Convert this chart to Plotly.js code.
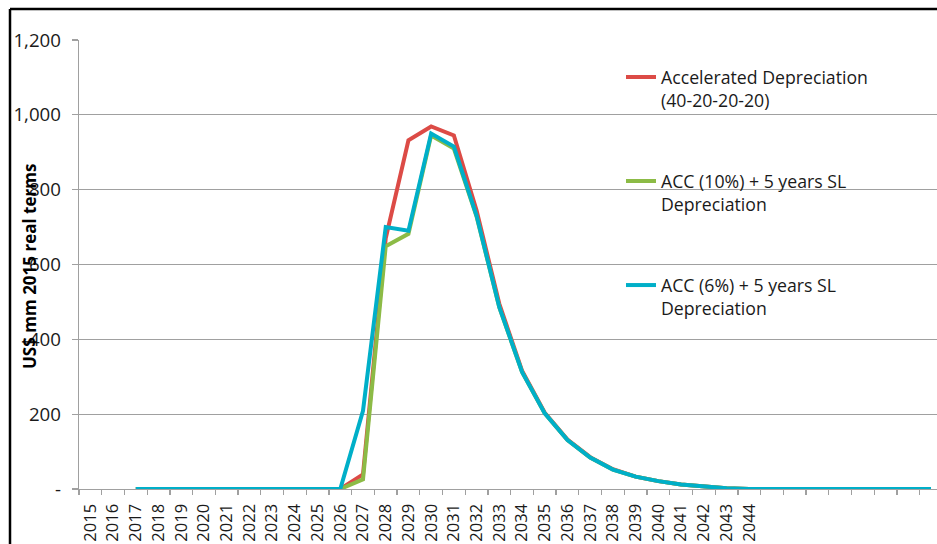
<!DOCTYPE html>
<html>
<head>
<meta charset="utf-8">
<script src="https://cdn.plot.ly/plotly-3.0.1.min.js"></script>
<style>
html,body{margin:0;padding:0;background:#fff;}
#chart{width:937px;height:544px;}
</style>
</head>
<body>
<div id="chart"></div>
<script>
// Categories (years) — the axis runs beyond the last labelled year
const years = [2015,2016,2017,2018,2019,2020,2021,2022,2023,2024,2025,2026,2027,2028,2029,2030,2031,2032,2033,2034,2035,2036,2037,2038,2039,2040,2041,2042,2043,2044,2045,2046,2047,2048,2049,2050,2051,2052];
// Labelled years on the x axis
const xTickYears = [2015,2016,2017,2018,2019,2020,2021,2022,2023,2024,2025,2026,2027,2028,2029,2030,2031,2032,2033,2034,2035,2036,2037,2038,2039,2040,2041,2042,2043,2044];
const xTickLabels = xTickYears.map(String);

// Series values (US$ mm 2015 real terms)
const accelerated = [null,null,0,0,0,0,0,0,0,0,0,0,39,670,932,969,945,744,495,316,204,132,85,53,33,21,12,6,2,0,0,0,0,0,0,0,0,0];
const acc10 = [null,null,0,0,0,0,0,0,0,0,0,0,26,649,682,945,910,728,485,313,202,131,84,52,33,21,12,6,2,0,0,0,0,0,0,0,0,0];
const acc6 = [null,null,0,0,0,0,0,0,0,0,0,0,209,700,690,950,915,730,486,313,202,131,84,52,33,21,12,6,2,0,0,0,0,0,0,0,0,0];

const seriesNames = [
  'Accelerated Depreciation<br>(40-20-20-20)',
  'ACC (10%) + 5 years SL<br>Depreciation',
  'ACC (6%) + 5 years SL<br>Depreciation'
];

const yTickVals = [0,200,400,600,800,1000,1200];
const yTickLabels = ['-','200','400','600','800','1,000','1,200'];

const FONT = '"Open Sans", sans-serif';
const colors = ['#dc4b46', '#8cbb46', '#00afc8'];
const seriesData = [accelerated, acc10, acc6];

const traces = seriesData.map((vals, i) => ({
  type: 'scatter',
  mode: 'lines',
  x: years,
  y: vals,
  name: seriesNames[i],
  legendgroup: 'g' + i,
  line: {color: colors[i], width: 4},
  hoverinfo: 'x+y'
}));

const W = 937, H = 544;
const L = 79, R = 0, T = 40, B = 55;
const pw = W - L - R, ph = H - T - B;
const px = X => (X - L) / pw;
const py = Y => (T + ph - Y) / ph;

const layout = {
  width: W, height: H,
  margin: {l: L, r: R, t: T, b: B, pad: 0},
  paper_bgcolor: '#ffffff',
  plot_bgcolor: '#ffffff',
  font: {family: FONT, size: 16, color: '#1a1a1a'},
  showlegend: true,
  legend: {
    x: px(621), y: py(59), xanchor: 'left', yanchor: 'top',
    bgcolor: 'rgba(0,0,0,0)',
    font: {family: FONT, size: 17.7, color: '#1a1a1a'},
    traceorder: 'grouped',
    tracegroupgap: 55,
    valign: 'top'
  },
  xaxis: {
    type: 'linear',
    range: [2014.5, 2014.5 + pw / 22.72],
    tickmode: 'array',
    tickvals: xTickYears,
    ticktext: xTickLabels,
    tickangle: -90,
    ticks: '',
    showgrid: false,
    zeroline: false,
    showline: true,
    linecolor: '#a0a0a0',
    linewidth: 1.3,
    tickfont: {family: FONT, size: 16.5, color: '#1a1a1a'},
    ticklabelstandoff: 7,
    minor: {tick0: 2014.5, dtick: 1, ticks: 'outside', ticklen: 5, tickcolor: '#a0a0a0', tickwidth: 1.3, showgrid: false},
    fixedrange: true
  },
  yaxis: {
    range: [0, 1200],
    tickmode: 'array',
    tickvals: yTickVals,
    ticktext: yTickLabels,
    ticks: 'outside',
    ticklen: 6,
    tickcolor: '#a0a0a0',
    tickwidth: 1.3,
    showgrid: true,
    gridcolor: '#a0a0a0',
    gridwidth: 1.3,
    zeroline: false,
    showline: true,
    linecolor: '#a0a0a0',
    linewidth: 1.3,
    tickfont: {family: FONT, size: 18.7, color: '#1a1a1a'},
    ticklabelstandoff: 7,
    fixedrange: true
  },
  annotations: [{
    text: '<b>US$ mm 2015 real terms</b>',
    xref: 'paper', yref: 'paper',
    x: px(29), y: py(267), xanchor: 'center', yanchor: 'middle',
    textangle: -90, showarrow: false,
    font: {family: FONT, size: 17, color: '#000000'}
  }],
  shapes: [
    {type: 'line', xref: 'paper', yref: 'paper', x0: px(10), x1: px(950), y0: py(9), y1: py(9), line: {color: '#000', width: 2.5}},
    {type: 'line', xref: 'paper', yref: 'paper', x0: px(10), x1: px(10), y0: py(9), y1: py(560), line: {color: '#000', width: 2.5}}
  ]
};

Plotly.newPlot('chart', traces, layout, {displayModeBar: false, staticPlot: true});
</script>
</body>
</html>
